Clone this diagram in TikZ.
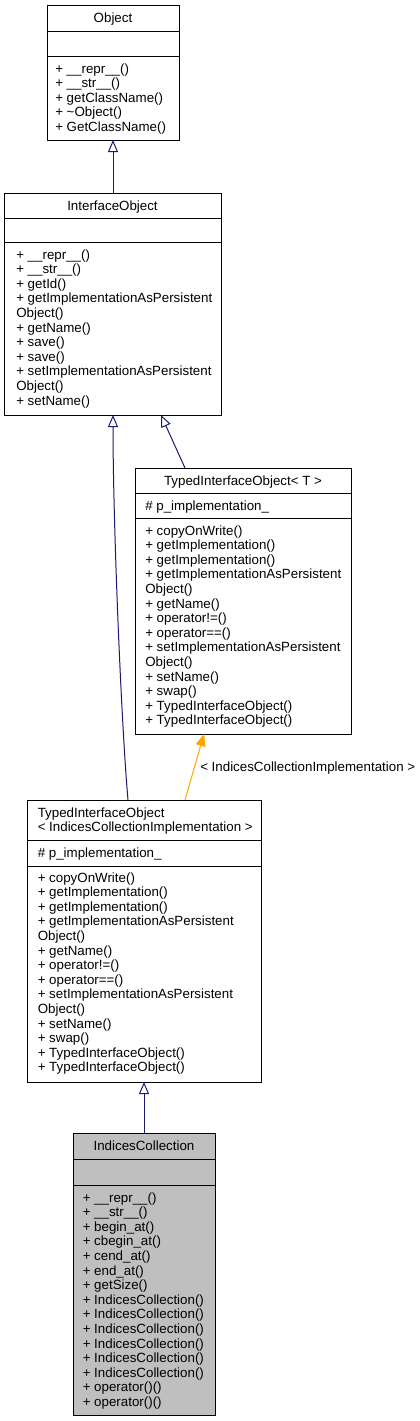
\documentclass[tikz,border=0pt]{standalone}
\usepackage{fontspec}
\setmainfont{Liberation Sans}
\usetikzlibrary{arrows.meta,calc}
\definecolor{edgeblue}{RGB}{25,25,112}
\definecolor{tmplorange}{RGB}{255,165,0}
\definecolor{boxgray}{RGB}{191,191,191}
\newcommand\umlmembers[4]{%
  \foreach \t [count=\i] in {#4}
    \node[txt] (#1\i) at (#2, {#3+(\i-1)*14.6}) {\t};}
\begin{document}
\begin{tikzpicture}[x=0.75pt,y=-0.75pt,
  box/.style={draw=black, line width=0.75pt, anchor=north west, inner sep=0pt, outer sep=0pt},
  txt/.style={anchor=base west, inner sep=0pt, font=\fontsize{10}{12}\selectfont},
  ttl/.style={anchor=base, inner sep=0pt, font=\fontsize{10}{12}\selectfont},
  sep/.style={draw=black, line width=0.75pt},
  inh/.style={draw=edgeblue, line width=0.75pt, -{Triangle[open,length=9pt,width=7.5pt,fill=white]}},
  tmpl/.style={draw=tmplorange, line width=0.75pt, -{Triangle[length=9pt,width=7.5pt,fill=tmplorange]}}]
\useasboundingbox[fill=white] (0,0) rectangle (419,1421);

% Object
\node[box, minimum width=99pt, minimum height=101.25pt] (obj) at (47,5) {};
\draw[sep] ($(obj.north west)+(0,26)$) -- ($(obj.north east)+(0,26)$);
\draw[sep] ($(obj.north west)+(0,51)$) -- ($(obj.north east)+(0,51)$);
\node[ttl] (objt) at (113,22.5) {Object};
\umlmembers{objm}{55}{73}{+ \_\_repr\_\_(),+ \_\_str\_\_(),+ getClassName(),+ \textasciitilde Object(),+ GetClassName()}

% InterfaceObject
\node[box, minimum width=162.75pt, minimum height=166.5pt] (iface) at (4,193) {};
\draw[sep] ($(iface.north west)+(0,25)$) -- ($(iface.north east)+(0,25)$);
\draw[sep] ($(iface.north west)+(0,49)$) -- ($(iface.north east)+(0,49)$);
\node[ttl] (ifacet) at (112.5,210.5) {InterfaceObject};
\umlmembers{ifacem}{16}{259}{+ \_\_repr\_\_(),+ \_\_str\_\_(),+ getId(),+ getImplementationAsPersistent,Object(),+ getName(),+ save(),+ save(),+ setImplementationAsPersistent,Object(),+ setName()}

% TypedInterfaceObject< T >
\node[box, minimum width=162pt, minimum height=199.5pt] (tiot) at (135,468) {};
\draw[sep] ($(tiot.north west)+(0,25)$) -- ($(tiot.north east)+(0,25)$);
\draw[sep] ($(tiot.north west)+(0,50)$) -- ($(tiot.north east)+(0,50)$);
\node[ttl] (tiott) at (243,485.5) {TypedInterfaceObject< T >};
\node[txt] (tiota) at (145,510) {\# p\_implementation\_};
\umlmembers{tiotm}{145}{535}{+ copyOnWrite(),+ getImplementation(),+ getImplementation(),+ getImplementationAsPersistent,Object(),+ getName(),+ operator!=(),+ operator==(),+ setImplementationAsPersistent,Object(),+ setName(),+ swap(),+ TypedInterfaceObject(),+ TypedInterfaceObject()}

% TypedInterfaceObject< IndicesCollectionImplementation >
\node[box, minimum width=175.5pt, minimum height=211.5pt] (tioi) at (27,800) {};
\draw[sep] ($(tioi.north west)+(0,40)$) -- ($(tioi.north east)+(0,40)$);
\draw[sep] ($(tioi.north west)+(0,66)$) -- ($(tioi.north east)+(0,66)$);
\node[txt] (tioit1) at (37.5,817) {TypedInterfaceObject};
\node[txt] (tioit2) at (37.5,831.6) {< IndicesCollectionImplementation >};
\node[txt] (tioia) at (37.5,857) {\# p\_implementation\_};
\umlmembers{tioim}{37.5}{882}{+ copyOnWrite(),+ getImplementation(),+ getImplementation(),+ getImplementationAsPersistent,Object(),+ getName(),+ operator!=(),+ operator==(),+ setImplementationAsPersistent,Object(),+ setName(),+ swap(),+ TypedInterfaceObject(),+ TypedInterfaceObject()}

% IndicesCollection
\node[box, fill=boxgray, minimum width=106.5pt, minimum height=211.5pt] (ic) at (73,1133) {};
\draw[sep] ($(ic.north west)+(0,26)$) -- ($(ic.north east)+(0,26)$);
\draw[sep] ($(ic.north west)+(0,52)$) -- ($(ic.north east)+(0,52)$);
\node[ttl] (ict) at (144,1150.5) {IndicesCollection};
\umlmembers{icm}{82.5}{1202}{+ \_\_repr\_\_(),+ \_\_str\_\_(),+ begin\_at(),+ cbegin\_at(),+ cend\_at(),+ end\_at(),+ getSize(),+ IndicesCollection(),+ IndicesCollection(),+ IndicesCollection(),+ IndicesCollection(),+ IndicesCollection(),+ IndicesCollection(),+ operator()(),+ operator()()}

% connectors
\draw[inh] (iface.north -| obj.south) -- (obj.south);
\draw[inh] ($(tioi.north west)+(101,0)$) .. controls ($(tioi.north west)+(94,-80)$) and ($(iface.south west)+(109,105)$) .. ($(iface.south west)+(109,0)$);
\draw[inh] ($(tiot.north west)+(50,0)$) -- ($(iface.south west)+(157,0)$);
\draw[tmpl] ($(tioi.north west)+(158,0)$) -- ($(tiot.south west)+(69,0)$);
\node[txt] (tmpllabel) at (200,771) {< IndicesCollectionImplementation >};
\draw[inh] (ic.north) -- (tioi.south);
\end{tikzpicture}
\end{document}
